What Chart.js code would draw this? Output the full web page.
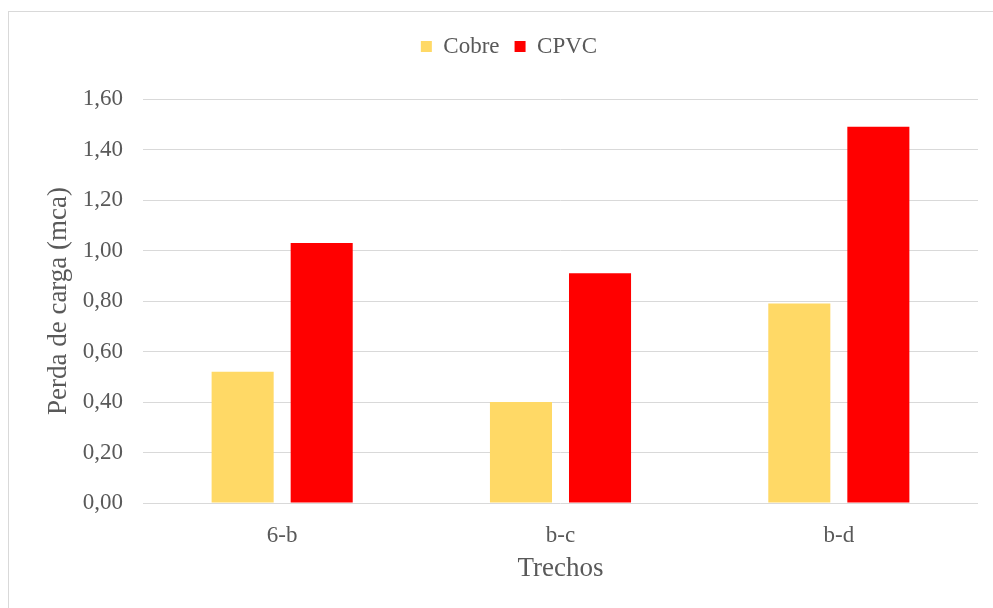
<!DOCTYPE html>
<html>
<head>
<meta charset="utf-8">
<script src="https://cdn.jsdelivr.net/npm/chart.js@4/dist/chart.umd.min.js"></script>
<style>
  html, body { margin: 0; padding: 0; background: #fff; overflow: hidden; }
  #frame { position: absolute; left: 8px; top: 11px; width: 1100px; height: 700px;
           border-left: 1.5px solid #d9d9d9; border-top: 1.5px solid #d9d9d9; }
  #wrap { position: absolute; left: 0; top: 0; width: 993px; height: 608px; }
</style>
</head>
<body>
<div id="frame"></div>
<div id="wrap"><canvas id="chart" width="993" height="608"></canvas></div>
<script>
const trechos = ["6-b", "b-c", "b-d"];
const cobre = [0.52, 0.40, 0.79];
const cpvc = [1.03, 0.91, 1.49];
const yTicks = [0, 0.2, 0.4, 0.6, 0.8, 1.0, 1.2, 1.4, 1.6];

const TEXT = "#595959";
const GRID = "#d9d9d9";
const serif = "'Liberation Serif', 'Times New Roman', serif";

Chart.defaults.font.family = serif;
Chart.defaults.color = TEXT;

// legend has no spacing option below it, so stretch its box to push the plot down
const legendGap = {
  id: "legendGap",
  beforeInit(chart) {
    const fit = chart.legend.fit;
    chart.legend.fit = function () {
      fit.call(this);
      this.height = 79;
    };
  },
};

const ctx = document.getElementById("chart").getContext("2d");
new Chart(ctx, {
  type: "bar",
  data: {
    labels: trechos,
    datasets: [
      { label: "Cobre", data: cobre, backgroundColor: "#FFD966" },
      { label: "CPVC", data: cpvc, backgroundColor: "#FF0000" },
    ],
  },
  options: {
    responsive: false,
    animation: false,
    devicePixelRatio: 1,
    categoryPercentage: 0.568,
    barPercentage: 0.785,
    layout: { padding: { left: 40, right: 15, top: 20, bottom: 0 } },
    plugins: {
      tooltip: { enabled: false },
      legend: {
        position: "top",
        labels: {
          boxWidth: 11,
          boxHeight: 11,
          padding: 15,
          color: TEXT,
          font: { family: serif, size: 23 },
        },
      },
    },
    scales: {
      x: {
        grid: { display: false },
        border: { display: false },
        ticks: { color: TEXT, padding: 11, font: { family: serif, size: 23 } },
        title: {
          display: true,
          text: "Trechos",
          color: TEXT,
          font: { family: serif, size: 27 },
          padding: { top: 0, bottom: 23 },
        },
        afterFit(s) { s.height = 105; },
      },
      y: {
        min: 0,
        max: 1.6,
        grid: { color: GRID, lineWidth: 1, drawTicks: false },
        border: { display: false },
        afterBuildTicks(s) { s.ticks = yTicks.map((v) => ({ value: v })); },
        ticks: {
          color: TEXT,
          padding: 20,
          font: { family: serif, size: 23 },
          callback: (v) => v.toFixed(2).replace(".", ","),
        },
        title: {
          display: true,
          text: "Perda de carga (mca)",
          color: TEXT,
          font: { family: serif, size: 27 },
          padding: { top: 3, bottom: 0 },
        },
        afterFit(s) { s.width = 103; },
      },
    },
  },
  plugins: [legendGap],
});
</script>
</body>
</html>
